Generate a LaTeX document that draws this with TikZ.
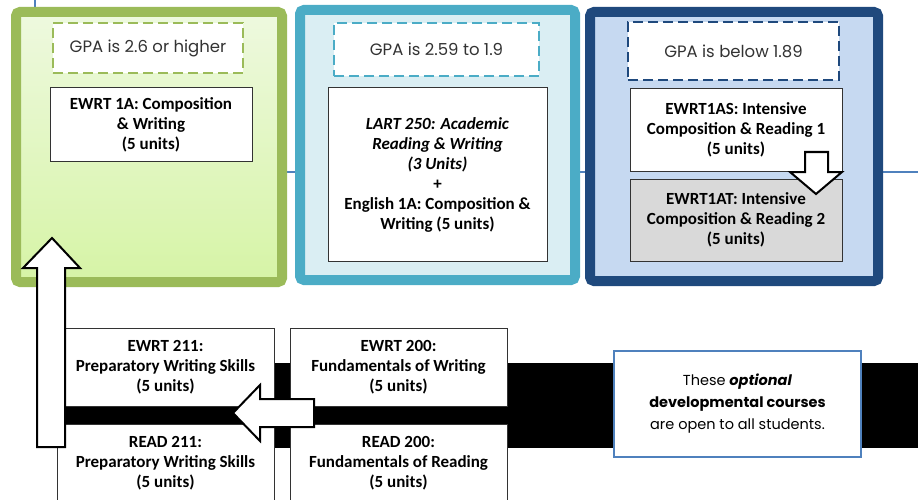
\documentclass[tikz,border=0pt]{standalone}
\usepackage{fontspec}
\setmainfont{Carlito}
\newfontfamily\gothic{Poppins}
\usetikzlibrary{shadows}
\definecolor{grn}{HTML}{9BBB59}
\definecolor{grnTop}{HTML}{EEF9DF}
\definecolor{grnBot}{HTML}{D6F4A6}
\definecolor{teal}{HTML}{4BACC6}
\definecolor{tealFill}{HTML}{DAEEF3}
\definecolor{navy}{HTML}{1F497D}
\definecolor{navyFill}{HTML}{C6D9F1}
\definecolor{lineblue}{HTML}{4F81BD}
\definecolor{grayFill}{HTML}{D9D9D9}
\tikzset{
  outerbox/.style={draw, line width=10pt, rounded corners=4pt,
    drop shadow={shadow xshift=1pt, shadow yshift=-3pt, opacity=0.25, fill=black!60}},
  gpabox/.style={draw, line width=2.5pt, dash pattern=on 10pt off 5pt, fill=white,
    text=black!80, font=\gothic\fontsize{16.5}{19}\selectfont},
  course/.style={draw=black!80, line width=1pt, fill=white, align=center, inner sep=0pt,
    font=\bfseries\fontsize{17}{20}\selectfont},
  blockarrow/.style={draw=black, line width=2pt, fill=white, line join=miter},
  notebox/.style={draw=lineblue, line width=2pt, fill=white, align=center,
    font=\gothic\fontsize{14.5}{22}\selectfont}
}
\begin{document}
\begin{tikzpicture}[x=1pt,y=-1pt]
\useasboundingbox (0,0) rectangle (918,500);
% background connector line
\coordinate (ltop) at (35,0);
\coordinate (lcorner) at (35,172);
\coordinate (lright) at (918,172);
\draw[lineblue, line width=1.5pt] (ltop) -- (lcorner) -- (lright);
% outer boxes
\node[outerbox, draw=grn, top color=grnTop, bottom color=grnBot,
  minimum width=266pt, minimum height=270pt] (green) at (149,147) {};
\node[outerbox, draw=teal, fill=tealFill,
  minimum width=275pt, minimum height=270pt] (tealbox) at (437.5,145) {};
\node[outerbox, draw=navy, fill=navyFill,
  minimum width=288pt, minimum height=269pt] (navybox) at (734,146.5) {};
% GPA boxes
\node[gpabox, draw=grn, minimum width=190pt, minimum height=50pt] (gpa1) at (148,48) {GPA is 2.6 or higher};
\node[gpabox, draw=teal, minimum width=205pt, minimum height=53pt] (gpa2) at (436.5,49.5) {GPA is 2.59 to 1.9};
\node[gpabox, draw=navy, minimum width=211pt, minimum height=58pt] (gpa3) at (733.5,51) {GPA is below 1.89};
% course boxes top
\node[course, minimum width=202pt, minimum height=73pt] (ewrt1a) at (151,124.5)
  {EWRT 1A: Composition\\ \& Writing\\ (5 units)};
\node[course, minimum width=219pt, minimum height=173pt] (lart) at (437.5,174.5)
  {\textit{LART 250: Academic}\\ \textit{Reading \& Writing}\\ \textit{(3 Units)}\\ +\\ English 1A: Composition \&\\ Writing (5 units)};
\node[course, minimum width=212pt, minimum height=82pt] (ewrt1as) at (736,130)
  {EWRT1AS: Intensive\\ Composition \& Reading 1\\ (5 units)};
\node[course, fill=grayFill, minimum width=212pt, minimum height=82pt] (ewrt1at) at (736,220)
  {EWRT1AT: Intensive\\ Composition \& Reading 2\\ (5 units)};
% black band
\fill[black] (60,363) rectangle (918,448);
% bottom course boxes
\node[course, minimum width=217pt, minimum height=78pt] (ewrt211) at (165.5,367)
  {EWRT 211:\\ Preparatory Writing Skills\\ (5 units)};
\node[course, minimum width=217pt, minimum height=78pt] (read211) at (165.5,463)
  {READ 211:\\ Preparatory Writing Skills\\ (5 units)};
\node[course, minimum width=217pt, minimum height=78pt] (ewrt200) at (398.5,367)
  {EWRT 200:\\ Fundamentals of Writing\\ (5 units)};
\node[course, minimum width=217pt, minimum height=78pt] (read200) at (398.5,463)
  {READ 200:\\ Fundamentals of Reading\\ (5 units)};
% note
\node[notebox, minimum width=247pt, minimum height=106pt] (note) at (737.5,404)
  {These \textbf{\textit{optional}}\\ \textbf{developmental courses}\\ are open to all students.};
% block arrows
\draw[blockarrow] (805,152) -- (828,152) -- (828,172) -- (842,172) -- (816,194)
  -- (790,172) -- (805,172) -- cycle;
\draw[blockarrow] (314,399) -- (260,399) -- (260,385) -- (233,413) -- (260,441)
  -- (260,427) -- (314,427) -- cycle;
\draw[blockarrow] (37,447) -- (37,268) -- (23,268) -- (52,238) -- (80,268)
  -- (65,268) -- (65,447) -- cycle;
\end{tikzpicture}
\end{document}
